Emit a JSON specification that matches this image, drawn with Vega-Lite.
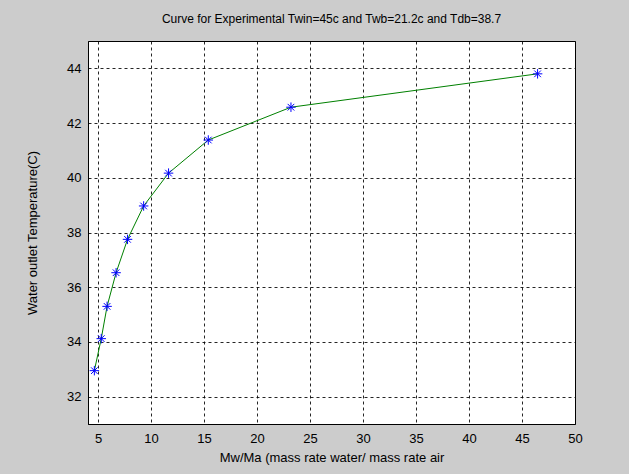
{
  "$schema": "https://vega.github.io/schema/vega-lite/v6.json",
  "autosize": {"type": "none"},
  "width": 487,
  "height": 383,
  "padding": {"left": 88, "top": 41, "right": 54, "bottom": 50},
  "background": "#cccccc",
  "title": {
    "text": "Curve for Experimental Twin=45c and Twb=21.2c and Tdb=38.7",
    "font": "Liberation Sans",
    "fontSize": 12,
    "fontWeight": "normal",
    "color": "#000000",
    "offset": 15
  },
  "config": {
    "view": {"fill": "#ffffff", "stroke": "#000000", "strokeWidth": 1},
    "axis": {
      "labelFont": "Liberation Sans",
      "labelFontSize": 13,
      "labelColor": "#000000",
      "titleFont": "Liberation Sans",
      "titleFontSize": 13,
      "titleFontWeight": "normal",
      "titleColor": "#000000",
      "grid": true,
      "gridColor": "#000000",
      "gridOpacity": 0.85,
      "gridDash": [3, 3],
      "gridWidth": 1,
      "domainColor": "#000000",
      "ticks": false
    }
  },
  "data": {
    "values": [
      {"ratio": 4.65, "temp": 32.95},
      {"ratio": 5.3, "temp": 34.12},
      {"ratio": 5.85, "temp": 35.3},
      {"ratio": 6.7, "temp": 36.53},
      {"ratio": 7.78, "temp": 37.75},
      {"ratio": 9.3, "temp": 38.97},
      {"ratio": 11.65, "temp": 40.17},
      {"ratio": 15.4, "temp": 41.38},
      {"ratio": 23.2, "temp": 42.58},
      {"ratio": 46.47, "temp": 43.8}
    ]
  },
  "encoding": {
    "x": {
      "field": "ratio",
      "type": "quantitative",
      "scale": {"domain": [4.05, 50], "nice": false, "zero": false},
      "axis": {
        "values": [5, 10, 15, 20, 25, 30, 35, 40, 45, 50],
        "title": "Mw/Ma (mass rate water/ mass rate air",
        "labelPadding": 8,
        "titlePadding": 6,
        "labelFlush": false
      }
    },
    "y": {
      "field": "temp",
      "type": "quantitative",
      "scale": {"domain": [31, 45], "nice": false, "zero": false},
      "axis": {
        "values": [32, 34, 36, 38, 40, 42, 44],
        "title": "Water outlet Temperature(C)",
        "labelPadding": 7,
        "titlePadding": 27
      }
    }
  },
  "layer": [
    {
      "mark": {"type": "line", "color": "#008000", "strokeWidth": 1}
    },
    {
      "mark": {
        "type": "point",
        "shape": "M-1,0L1,0M0,-1L0,1M-0.7,-0.7L0.7,0.7M-0.7,0.7L0.7,-0.7",
        "filled": false,
        "stroke": "#0000ff",
        "strokeWidth": 1,
        "size": 90,
        "opacity": 1
      }
    }
  ]
}
